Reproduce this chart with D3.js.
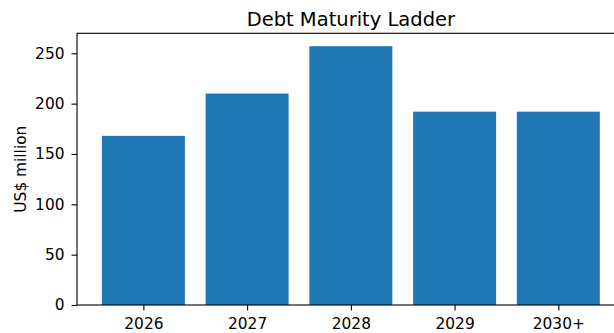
<!DOCTYPE html>
<html>
<head>
<meta charset="utf-8">
<script src="https://d3js.org/d3.v7.min.js"></script>
<style>
  body { margin: 0; background: #fff; }
  text { font-family: "DejaVu Sans", sans-serif; fill: #000; }
</style>
</head>
<body>
<div id="chart"></div>
<script>
// data
var categories = ["2026", "2027", "2028", "2029", "2030+"];
var values = [168, 210, 257, 192, 192];
var yTicks = [0, 50, 100, 150, 200, 250];

var w = 614;
var h = 333;
// plot area (right edge runs past the window, like the reference)
var plotLeft = 77, plotRight = 624.7, plotTop = 33.3, plotBottom = 305;

var svg = d3.select("#chart")
            .append("svg")
            .attr("width", w)
            .attr("height", h);

// matplotlib-style limits: bars of width 0.8 plus 5% margins
var xScale = d3.scaleLinear()
               .domain([-0.64, categories.length - 1 + 0.64])
               .range([plotLeft, plotRight]);
var yScale = d3.scaleLinear()
               .domain([0, d3.max(values) * 1.05])
               .range([plotBottom, plotTop]);

// bars
svg.selectAll(".bar")
   .data(values)
   .enter()
   .append("rect")
   .attr("class", "bar")
   .attr("x", function(d, i) { return xScale(i - 0.4); })
   .attr("width", function(d, i) { return xScale(i + 0.4) - xScale(i - 0.4); })
   .attr("y", function(d) { return yScale(d); })
   .attr("height", function(d) { return yScale(0) - yScale(d); })
   .style("fill", "#1f77b4");

// frame
svg.append("rect")
   .attr("x", plotLeft)
   .attr("y", plotTop)
   .attr("width", plotRight - plotLeft)
   .attr("height", plotBottom - plotTop)
   .style("fill", "none")
   .style("stroke", "#000")
   .style("stroke-width", 1.1);

// x axis
var xAxis = d3.axisBottom(xScale)
              .tickValues(d3.range(categories.length))
              .tickFormat(function(i) { return categories[i]; })
              .tickSize(5.5)
              .tickPadding(7.5);
var gx = svg.append("g")
   .attr("transform", "translate(0," + plotBottom + ")")
   .call(xAxis);
gx.select(".domain").remove();
gx.selectAll("text").style("font-size", "15.4px").attr("fill", "#000");
gx.selectAll("line").style("stroke-width", 1.1);

// y axis
var yAxis = d3.axisLeft(yScale)
              .tickValues(yTicks)
              .tickSize(5.5)
              .tickPadding(7);
var gy = svg.append("g")
   .attr("transform", "translate(" + plotLeft + ",0)")
   .call(yAxis);
gy.select(".domain").remove();
gy.selectAll("text").style("font-size", "15.4px").attr("fill", "#000");
gy.selectAll("line").style("stroke-width", 1.1);

// y label
svg.append("text")
   .attr("transform", "rotate(-90)")
   .attr("x", -(plotTop + plotBottom) / 2)
   .attr("y", 26)
   .attr("text-anchor", "middle")
   .style("font-size", "15.4px")
   .text("US$ million");

// title
svg.append("text")
   .attr("x", (plotLeft + plotRight) / 2)
   .attr("y", 26)
   .attr("text-anchor", "middle")
   .style("font-size", "19.5px")
   .text("Debt Maturity Ladder");
</script>
</body>
</html>
